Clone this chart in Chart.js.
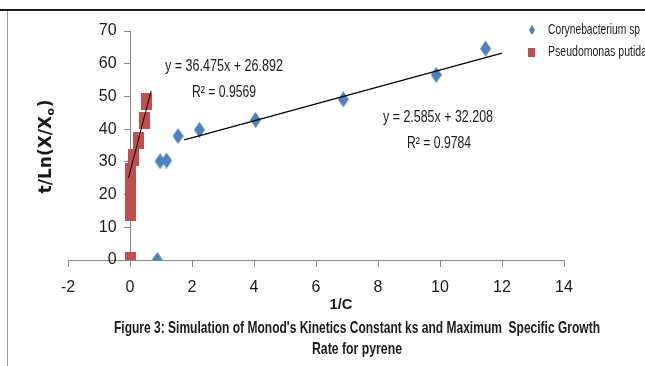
<!DOCTYPE html>
<html>
<head>
<meta charset="utf-8">
<script src="https://cdn.jsdelivr.net/npm/chart.js@4.4.1/dist/chart.umd.min.js"></script>
<style>
  html, body { margin: 0; padding: 0; background: #fff; }
  #wrap { position: relative; width: 645px; height: 366px; }
</style>
</head>
<body>
<div id="wrap"><canvas id="monodChart" width="645" height="366"></canvas></div>
<script>
// 1/C against t/Ln(X/Xo)
const coryneX = [0.88, 0.97, 1.18, 1.55, 2.24, 4.05, 6.88, 9.88, 11.47];
const coryneY = [0, 30.2, 30.4, 37.9, 39.8, 42.8, 49.1, 56.6, 64.6];
const pseudoX = [0, 0.02, 0.02, 0.03, 0.02, 0.10, 0.26, 0.48, 0.53];
const pseudoY = [0, 14.5, 18, 21.8, 27, 31.4, 36.6, 42.6, 48.4];

// linear trendlines printed on the chart, and the x span they are drawn over
const coryneSlope = 2.585, coryneIntercept = 32.208;
const coryneTrendX = [1.75, 12];
const pseudoSlope = 36.475, pseudoIntercept = 26.892;
const pseudoTrendX = [-0.05, 0.68];

const xTicks = [-2, 0, 2, 4, 6, 8, 10, 12, 14];
const yTicks = [0, 10, 20, 30, 40, 50, 60, 70];

const seriesNames = ['Corynebacterium sp', 'Pseudomonas putida'];
const coryneEq = ['y = 2.585x + 32.208', 'R\u00B2 = 0.9784'];
const pseudoEq = ['y = 36.475x + 26.892', 'R\u00B2 = 0.9569'];

const BLUE = '#4F81BD';
const RED = '#C0504D';
const SANS = '"Liberation Sans", Arial, sans-serif';

function makeMarker(w, h, color, diamond) {
  const c = document.createElement('canvas');
  c.width = w; c.height = h;
  const g = c.getContext('2d');
  g.fillStyle = color;
  if (diamond) {
    g.beginPath();
    g.moveTo(w / 2, 0);
    g.lineTo(w, h / 2);
    g.lineTo(w / 2, h);
    g.lineTo(0, h / 2);
    g.closePath();
    g.fill();
  } else {
    g.fillRect(0, 0, w, h);
  }
  return c;
}

// the original uses a narrow font (Calibri); squeeze Liberation Sans to the width seen
function narrowText(ctx, text, x, y, font, width, align) {
  ctx.font = font;
  const sx = width / ctx.measureText(text).width;
  ctx.save();
  ctx.translate(x, y);
  ctx.scale(sx, 1);
  ctx.textAlign = align || 'center';
  ctx.fillText(text, 0, 0);
  ctx.restore();
}

const decor = {
  id: 'decor',
  beforeDraw(chart) {
    const ctx = chart.ctx;
    ctx.save();
    ctx.fillStyle = '#fff';
    ctx.fillRect(0, 0, chart.width, chart.height);
    ctx.restore();
  },
  afterDraw(chart) {
    const ctx = chart.ctx;
    ctx.save();

    // outer frame, top and left only
    ctx.strokeStyle = '#1a1a1a';
    ctx.lineWidth = 2;
    ctx.beginPath(); ctx.moveTo(0, 10); ctx.lineTo(chart.width, 10); ctx.stroke();
    ctx.strokeStyle = '#9a9a9a';
    ctx.lineWidth = 1;
    ctx.beginPath(); ctx.moveTo(7.5, 11); ctx.lineTo(7.5, chart.height); ctx.stroke();

    ctx.fillStyle = '#1a1a1a';
    ctx.textBaseline = 'middle';

    // trendline equations
    const eqFont = '16.5px ' + SANS;
    narrowText(ctx, pseudoEq[0], 224, 66, eqFont, 118);
    narrowText(ctx, pseudoEq[1], 224, 92, eqFont, 64);
    narrowText(ctx, coryneEq[0], 438, 117, eqFont, 110);
    narrowText(ctx, coryneEq[1], 439, 143, eqFont, 64);

    // legend
    const lgFont = '14.5px ' + SANS;
    narrowText(ctx, seriesNames[0], 548, 30, lgFont, 92, 'left');
    narrowText(ctx, seriesNames[1], 548, 52, lgFont, 99, 'left');
    ctx.drawImage(makeMarker(6, 10, BLUE, true), 529, 25);
    ctx.drawImage(makeMarker(7, 9, RED, false), 528, 48);

    // x axis title
    narrowText(ctx, '1/C', 341, 305, 'bold 15px ' + SANS, 23);

    // caption
    const cap1 = "Figure 3: Simulation of Monod's Kinetics Constant ks and Maximum  Specific Growth";
    narrowText(ctx, cap1, 357, 328, 'bold 16.5px ' + SANS, 486);
    narrowText(ctx, 'Rate for pyrene', 357, 349, 'bold 16.5px ' + SANS, 90);

    // y axis title with subscript o, rotated
    ctx.translate(45, 147);
    ctx.rotate(-Math.PI / 2);
    const mainFont = 'bold 17px "DejaVu Sans", sans-serif';
    const subFont = 'bold 11px "DejaVu Sans", sans-serif';
    const p1 = 't/Ln(X/X', p2 = 'o', p3 = ')';
    ctx.font = mainFont; const w1 = ctx.measureText(p1).width, w3 = ctx.measureText(p3).width;
    ctx.font = subFont; const w2 = ctx.measureText(p2).width;
    let tx = -(w1 + w2 + w3) / 2;
    ctx.textAlign = 'left';
    ctx.textBaseline = 'alphabetic';
    ctx.font = mainFont; ctx.fillText(p1, tx, 6); tx += w1;
    ctx.font = subFont; ctx.fillText(p2, tx + 0.5, 9); tx += w2 + 1;
    ctx.font = mainFont; ctx.fillText(p3, tx, 6);

    ctx.restore();
  }
};

const toPoints = (xs, ys) => xs.map((x, i) => ({ x: x, y: ys[i] }));
const trendPoints = (xs, m, b) => xs.map(x => ({ x: x, y: m * x + b }));

new Chart(document.getElementById('monodChart'), {
  type: 'scatter',
  data: {
    datasets: [
      {
        label: 'Corynebacterium sp trend',
        data: trendPoints(coryneTrendX, coryneSlope, coryneIntercept),
        showLine: true,
        borderColor: '#000',
        borderWidth: 1.2,
        pointRadius: 0,
        order: 0
      },
      {
        label: 'Pseudomonas putida trend',
        data: trendPoints(pseudoTrendX, pseudoSlope, pseudoIntercept),
        showLine: true,
        borderColor: '#000',
        borderWidth: 1,
        pointRadius: 0,
        order: 0
      },
      {
        label: seriesNames[0],
        data: toPoints(coryneX, coryneY),
        pointStyle: makeMarker(11, 16, BLUE, true),
        backgroundColor: BLUE,
        borderColor: BLUE,
        order: 2
      },
      {
        label: seriesNames[1],
        data: toPoints(pseudoX, pseudoY),
        pointStyle: makeMarker(11, 17, RED, false),
        backgroundColor: RED,
        borderColor: RED,
        order: 1
      }
    ]
  },
  options: {
    responsive: false,
    animation: false,
    layout: { padding: { left: 68, right: 81, top: 31, bottom: 106 } },
    plugins: {
      legend: { display: false },
      tooltip: { enabled: false }
    },
    scales: {
      x: {
        type: 'linear',
        min: -2,
        max: 14,
        position: { y: 0 },
        afterBuildTicks: s => { s.ticks = xTicks.map(v => ({ value: v })); },
        border: { display: true, color: '#868686', width: 1 },
        grid: { drawOnChartArea: false, drawTicks: true, tickLength: 6, color: '#868686' },
        ticks: {
          autoSkip: false,
          maxRotation: 0,
          padding: 12,
          color: '#1a1a1a',
          font: { family: SANS, size: 16 }
        }
      },
      y: {
        type: 'linear',
        min: 0,
        max: 70,
        position: { x: 0 },
        afterBuildTicks: s => { s.ticks = yTicks.map(v => ({ value: v })); },
        border: { display: true, color: '#868686', width: 1 },
        grid: { drawOnChartArea: false, drawTicks: true, tickLength: 6, color: '#868686' },
        ticks: {
          autoSkip: false,
          // labels sit right on the axis when it is placed at x = 0; pad them off it
          callback: v => v + '   ',
          color: '#1a1a1a',
          font: { family: SANS, size: 16 }
        }
      }
    }
  },
  plugins: [decor]
});
</script>
</body>
</html>
